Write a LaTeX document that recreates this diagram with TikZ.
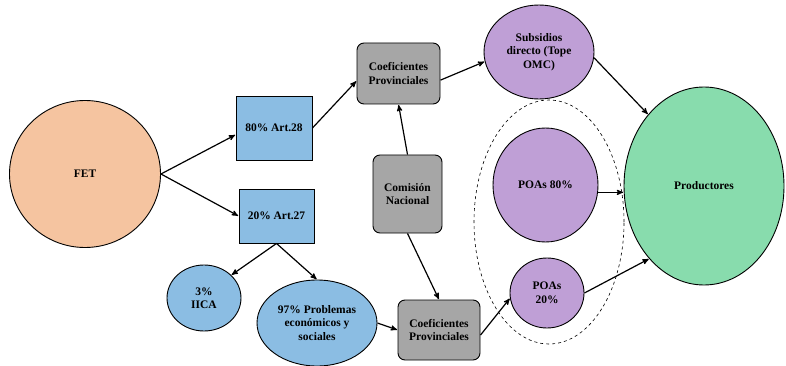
\documentclass[tikz,border=0pt]{standalone}
\usepackage{fontspec}
\setmainfont{Liberation Serif}
\usetikzlibrary{shapes,arrows,positioning,shapes.geometric}

\definecolor{salmon}{HTML}{F5C4A0}
\definecolor{celeste}{HTML}{8BBDE3}
\definecolor{gris}{HTML}{A6A6A6}
\definecolor{lila}{HTML}{BF9FD6}
\definecolor{verde}{HTML}{88DCAD}

\begin{document}
\begin{tikzpicture}[
    x=1pt, y=-1pt,
    every node/.style={
        draw, line width=0.9pt,
        inner sep=0pt,
        align=center,
        font=\fontsize{11.5}{13.5}\selectfont\bfseries
    },
    caja/.style={rectangle, fill=celeste},
    coef/.style={rectangle, rounded corners=7pt, fill=gris},
    elip/.style={ellipse},
    arr/.style={->, >=stealth', line width=1.2pt, shorten >=0.5pt}
]
\useasboundingbox (0,0) rectangle (786,366);

% fuentes
\node[elip, fill=salmon, minimum width=151pt, minimum height=147pt] (fet) at (85,174) {FET};
\node[caja, minimum width=76pt, minimum height=64pt] (a28) at (274,128) {80\% Art.28};
\node[caja, minimum width=75pt, minimum height=54pt] (a27) at (276.5,216) {20\% Art.27};
\node[elip, fill=celeste, minimum width=74pt, minimum height=66pt] (iica) at (204,298) {3\%\\IICA};
\node[elip, fill=celeste, minimum width=120pt, minimum height=86pt] (prob) at (317,323) {97\% Problemas\\económicos y\\sociales};

% reparto
\node[coef, minimum width=83pt, minimum height=61pt] (coefA) at (398.5,73.5) {Coeficientes\\Provinciales};
\node[coef, minimum width=69pt, minimum height=78pt] (com) at (407.5,194) {Comisión\\Nacional};
\node[coef, minimum width=82pt, minimum height=60pt] (coefB) at (439,330) {Coeficientes\\Provinciales};

% destinos
\node[elip, fill=lila, minimum width=110pt, minimum height=94pt] (subs) at (539,52) {Subsidios\\directo (Tope\\OMC)};
\node[elip, dashed, line width=0.6pt, minimum width=150pt, minimum height=244pt] (grupo) at (549,222) {};
\node[elip, fill=lila, minimum width=105pt, minimum height=114pt] (poa80) at (545.5,185) {POAs 80\%};
\node[elip, fill=lila, minimum width=74pt, minimum height=70pt] (poa20) at (547,293) {POAs\\20\%};
\node[elip, fill=verde, minimum width=160pt, minimum height=198pt] (prod) at (704,186) {Productores};

% flechas
\draw[arr] (fet.east) -- (a28.190);
\draw[arr] (fet.east) -- (a27.west);
\draw[arr] (a28.east) -- (coefA.190);
\draw[arr] (coefA.-9) -- (subs.190);
\draw[arr] (com.north) -- (coefA.south);
\draw[arr] (com.south) -- (coefB.north);
\draw[arr] (a27.south) -- (iica.40);
\draw[arr] (a27.south) -- (prob.north);
\draw[arr] (prob.east) -- (coefB.west);
\draw[arr] (coefB.-7) -- (poa20.188);
\draw[arr] (poa20.east) -- (prod.233);
\draw[arr] (poa80.-8) -- (poa80.-8 -| prod.west);
\draw[arr] (subs.-6) -- (prod.128);
\end{tikzpicture}
\end{document}
